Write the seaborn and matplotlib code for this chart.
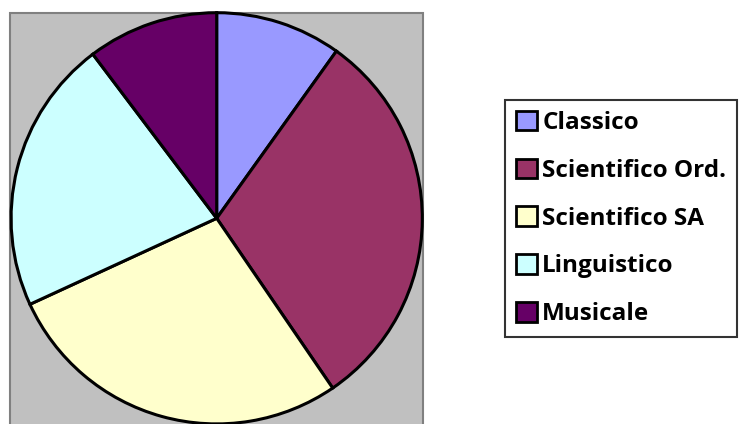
import matplotlib
matplotlib.use("Agg")
import matplotlib.pyplot as plt
from matplotlib.patches import Rectangle
import seaborn as sns

categories = ["Classico", "Scientifico Ord.", "Scientifico SA", "Linguistico", "Musicale"]
values = [9.9, 30.6, 27.7, 21.6, 10.3]
colors = ["#9999FF", "#993366", "#FFFFCC", "#CCFFFF", "#660066"]

sns.set_theme(style="white")
plt.rcParams["font.family"] = ["Open Sans", "DejaVu Sans"]

W, H = 741, 424
fig = plt.figure(figsize=(W / 100, H / 100), dpi=100)
ax = fig.add_axes([0, 0, 1, 1])

# plot area background
ax.add_patch(Rectangle((9.5, -20), 413.2, H - 12.7 + 20, facecolor="#C0C0C0",
                       edgecolor="#808080", lw=1.5, zorder=0))

wedges, _ = ax.pie(values, colors=colors, startangle=90, counterclock=False,
                   center=(216.7, H - 218.3), radius=205.6,
                   wedgeprops=dict(edgecolor="black", linewidth=2.2))
ax.set_xlim(0, W)
ax.set_ylim(0, H)
ax.set_aspect("equal")
ax.axis("off")

leg = fig.legend(wedges, categories, loc="upper left",
                 bbox_to_anchor=(505 / W, 1 - 100 / H),
                 frameon=True, fancybox=False, shadow=False,
                 prop=dict(family="Open Sans", weight="bold", size=17.5),
                 labelcolor="black",
                 handlelength=0.86, handleheight=0.86, handletextpad=0.22,
                 labelspacing=0.97, borderpad=0.45, borderaxespad=0)
frame = leg.get_frame()
frame.set_edgecolor("black")
frame.set_linewidth(1.5)
for h in leg.legend_handles:
    h.set_linewidth(2)

fig.savefig("out.png", dpi=100)
